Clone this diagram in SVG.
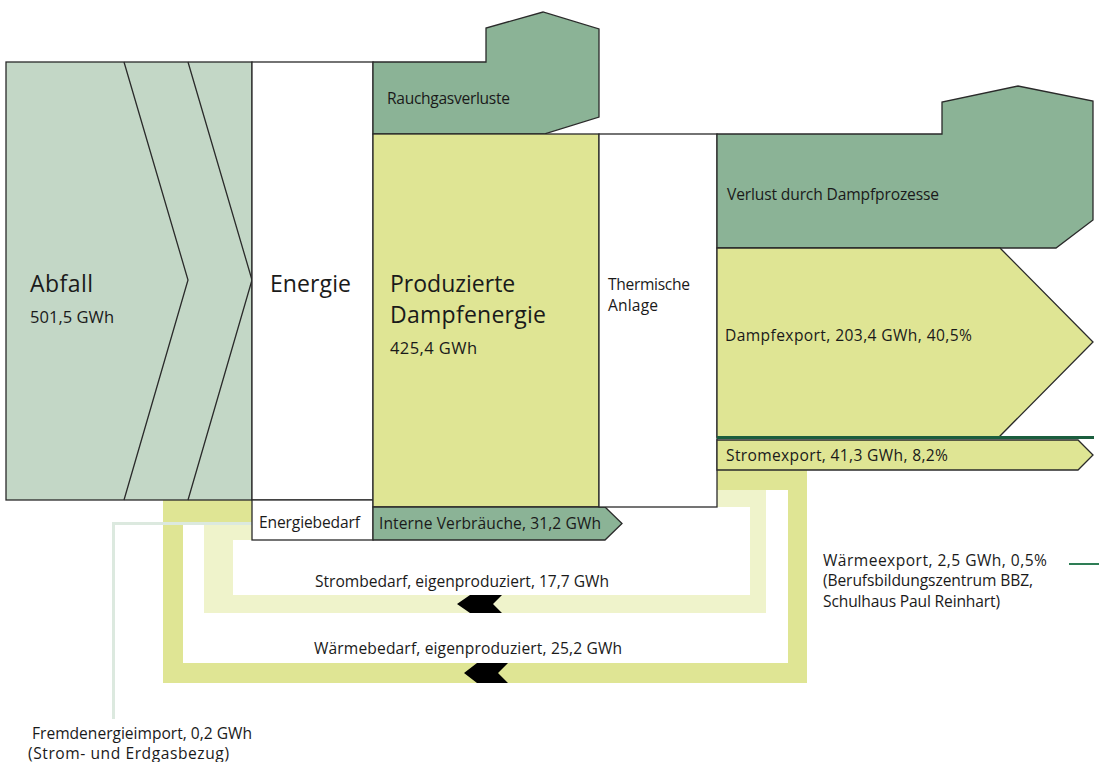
<svg xmlns="http://www.w3.org/2000/svg" width="1099" height="762" viewBox="0 0 1099 762">
<style>
.s{stroke:#2a2a2a;stroke-width:1.3;stroke-linejoin:miter}
.t{font-family:"Open Sans","Noto Sans",sans-serif;fill:#1a1a1a}
.f14{font-size:15.6px}
.f15{font-size:16.5px}
.f22{font-size:23px}
.abf{fill:#c3d7c6}
.dg{fill:#8bb396}
.yg{fill:#dfe594}
.ly{fill:#eff3cb}
.w{fill:#ffffff}
</style>
<rect x="0" y="0" width="1099" height="762" fill="#ffffff"/>
<g id="loops">
<polygon id="waermebedarf-loop" class="yg" points="163,500 252,500 252,525 183,525 183,663 788,663 788,490 717,490 717,470 807,470 807,683 163,683"/>
<polygon id="strombedarf-loop" class="ly" points="717,490 766,490 766,613 204,613 204,525 252,525 252,540 233,540 233,595 750,595 750,507 717,507"/>
<polygon id="arrow-strom" fill="#000" points="457,604 470,595 502,595 493,604 502,613 470,613"/>
<polygon id="arrow-waerme" fill="#000" points="464,673 477,663 508,663 498,673 508,683 477,683"/>
<polyline id="fremdenergie-line" points="252,523.5 113.5,523.5 113.5,719" fill="none" stroke="#dce9df" stroke-width="3"/>
<line id="waermeexport-line" x1="1069" y1="564" x2="1099" y2="564" stroke="#2e7d55" stroke-width="2"/>
</g>
<g id="abfall">
<rect class="abf s" x="6" y="62" width="246" height="438"/>
<polyline class="s" fill="none" points="124,62 188,280 124,500"/>
<polyline class="s" fill="none" points="188,62 252,280 188,500"/>
<text class="t f22" x="30" y="292" textLength="63">Abfall</text>
<text class="t f15" x="30" y="323" textLength="84">501,5 GWh</text>
</g>
<g id="energie">
<rect class="w s" x="252" y="62" width="121" height="438"/>
<text class="t f22" x="270" y="292" textLength="81">Energie</text>
</g>
<g id="energiebedarf">
<rect class="w s" x="252" y="500" width="121" height="40"/>
<text class="t f14" x="259" y="528" textLength="101">Energiebedarf</text>
</g>
<g id="rauchgasverluste">
<polygon class="dg s" points="373,62 486,62 486,28 543,12 599,29 599,117 544,134 373,134"/>
<text class="t f14" x="387" y="104" textLength="123">Rauchgasverluste</text>
</g>
<g id="produzierte-dampfenergie">
<rect class="yg s" x="373" y="134" width="226" height="373"/>
<text class="t f22" x="390" y="292">Produzierte</text>
<text class="t f22" x="390" y="323" textLength="156">Dampfenergie</text>
<text class="t f15" x="390" y="354" textLength="87">425,4 GWh</text>
</g>
<g id="interne-verbraeuche">
<polygon class="dg s" points="373,507 605,507 622,523.5 605,540 373,540"/>
<text class="t f14" x="379" y="529" textLength="222">Interne Verbräuche, 31,2 GWh</text>
</g>
<g id="thermische-anlage">
<rect class="w s" x="599" y="134" width="118" height="373"/>
<text class="t f14" x="608" y="290" textLength="82">Thermische</text>
<text class="t f14" x="608" y="311" textLength="50">Anlage</text>
</g>
<g id="verlust-dampfprozesse">
<polygon class="dg s" points="717,134 942,134 942,102 1018,86 1093,101 1093,220 1056,248 717,248"/>
<text class="t f14" x="727" y="200" textLength="212">Verlust durch Dampfprozesse</text>
</g>
<g id="dampfexport">
<polygon class="yg s" points="717,248 1000,248 1093,342 999,437 717,437"/>
<text class="t f14" x="725" y="340.5" textLength="247">Dampfexport, 203,4 GWh, 40,5%</text>
</g>
<g id="stromexport">
<line x1="717" y1="437.5" x2="1094" y2="437.5" stroke="#1b5e3e" stroke-width="3"/>
<polygon class="yg s" points="717,440 1078,440 1093,455 1078,470 717,470"/>
<text class="t f14" x="726" y="461" textLength="222">Stromexport, 41,3 GWh, 8,2%</text>
</g>
<g id="labels">
<text class="t f14" x="315" y="587" textLength="294">Strombedarf, eigenproduziert, 17,7 GWh</text>
<text class="t f14" x="314" y="654" textLength="308">Wärmebedarf, eigenproduziert, 25,2 GWh</text>
<text class="t f14" x="823" y="566" textLength="224">Wärmeexport, 2,5 GWh, 0,5%</text>
<text class="t f14" x="823" y="586" textLength="210">(Berufsbildungszentrum BBZ,</text>
<text class="t f14" x="823" y="607" textLength="177">Schulhaus Paul Reinhart)</text>
<text class="t f14" x="32" y="739" textLength="220">Fremdenergieimport, 0,2 GWh</text>
<text class="t f14" x="28" y="759" textLength="201">(Strom- und Erdgasbezug)</text>
</g>
</svg>
